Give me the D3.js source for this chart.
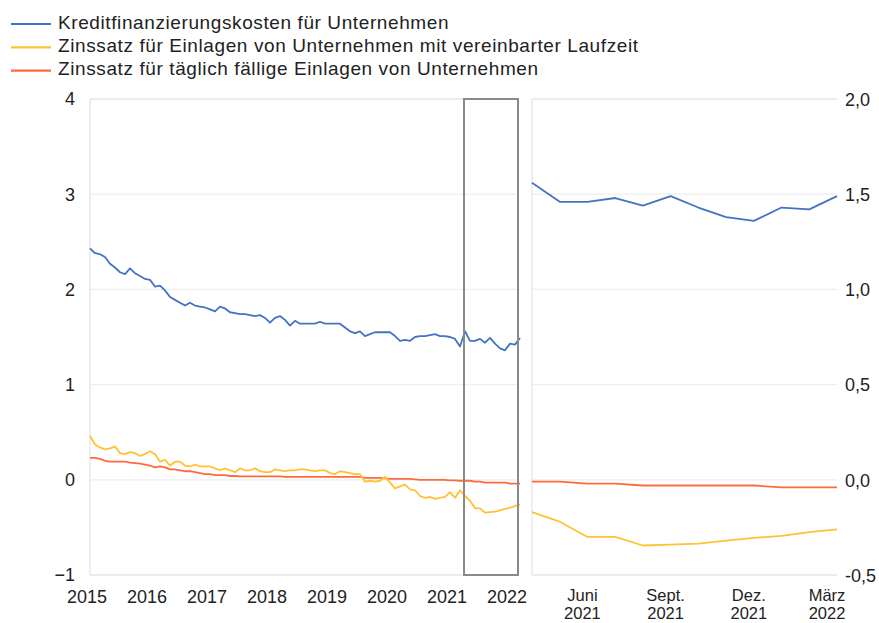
<!DOCTYPE html>
<html>
<head>
<meta charset="utf-8">
<script src="https://cdn.jsdelivr.net/npm/d3@7/dist/d3.min.js"></script>
<style>
  html, body { margin: 0; padding: 0; background: #fff; }
  svg { display: block; font-family: "Liberation Sans", Arial, sans-serif; }
</style>
</head>
<body>
<svg id="chart" width="879" height="623"></svg>
<script>
// ---- Data (monthly, Jan 2015 – Mar 2022) ----
const startYear = 2015;
const seriesNames = [
  "Kreditfinanzierungskosten für Unternehmen",
  "Zinssatz für Einlagen von Unternehmen mit vereinbarter Laufzeit",
  "Zinssatz für täglich fällige Einlagen von Unternehmen"
];
const seriesColors = ["#4472C4", "#FFC233", "#FF6A3D"];

const costOfBorrowing = [
  2.43, 2.38, 2.37, 2.34, 2.27, 2.23, 2.18, 2.16, 2.22, 2.17, 2.14, 2.11,
  2.10, 2.03, 2.04, 1.99, 1.92, 1.89, 1.86, 1.83, 1.86, 1.83, 1.82, 1.81,
  1.79, 1.77, 1.82, 1.80, 1.76, 1.75, 1.74, 1.74, 1.73, 1.72, 1.73, 1.70,
  1.65, 1.70, 1.72, 1.68, 1.62, 1.67, 1.64, 1.64, 1.64, 1.64, 1.66, 1.64,
  1.64, 1.64, 1.64, 1.60, 1.56, 1.54, 1.56, 1.51, 1.53, 1.55, 1.55, 1.55,
  1.55, 1.51, 1.46, 1.47, 1.46, 1.50, 1.51, 1.51, 1.52, 1.53, 1.51, 1.51,
  1.50, 1.48, 1.40, 1.56, 1.46, 1.46, 1.48, 1.44, 1.49, 1.43, 1.38, 1.36,
  1.43, 1.42, 1.49
];
const fixedTermDeposits = [
  0.46, 0.37, 0.34, 0.32, 0.33, 0.35, 0.28, 0.27, 0.29, 0.28, 0.25, 0.27,
  0.30, 0.27, 0.19, 0.21, 0.15, 0.19, 0.19, 0.15, 0.14, 0.16, 0.14, 0.14,
  0.14, 0.12, 0.10, 0.12, 0.10, 0.08, 0.12, 0.10, 0.10, 0.12, 0.09, 0.08,
  0.08, 0.11, 0.10, 0.09, 0.10, 0.10, 0.11, 0.11, 0.10, 0.09, 0.10, 0.10,
  0.07, 0.06, 0.09, 0.08, 0.07, 0.06, 0.06, -0.02, -0.01, -0.02, -0.01, 0.03,
  -0.03, -0.09, -0.07, -0.05, -0.10, -0.11, -0.17, -0.19, -0.18, -0.20, -0.19, -0.18,
  -0.13, -0.19, -0.11, -0.17, -0.22, -0.30, -0.30, -0.345, -0.34, -0.335, -0.32, -0.305,
  -0.295, -0.275, -0.26
];
const overnightDeposits = [
  0.23, 0.23, 0.22, 0.20, 0.19, 0.19, 0.19, 0.19, 0.18, 0.175, 0.17, 0.16,
  0.15, 0.13, 0.14, 0.13, 0.11, 0.11, 0.10, 0.09, 0.09, 0.08, 0.07, 0.06,
  0.06, 0.05, 0.05, 0.05, 0.04, 0.04, 0.035, 0.035, 0.035, 0.035, 0.035, 0.035,
  0.035, 0.035, 0.035, 0.03, 0.03, 0.03, 0.03, 0.03, 0.03, 0.03, 0.03, 0.03,
  0.03, 0.03, 0.03, 0.03, 0.03, 0.03, 0.03, 0.02, 0.02, 0.02, 0.02, 0.015,
  0.01, 0.01, 0.01, 0.01, 0.01, 0.005, 0.00, 0.00, 0.00, 0.00, 0.00, 0.00,
  -0.005, -0.005, -0.01, -0.01, -0.01, -0.02, -0.02, -0.03, -0.03, -0.03, -0.03, -0.03,
  -0.04, -0.04, -0.04
];

const leftYTicks = [-1, 0, 1, 2, 3, 4];
const leftYLabels = ["\u22121", "0", "1", "2", "3", "4"];
const rightYTicks = [-0.5, 0, 0.5, 1.0, 1.5, 2.0];
const rightYLabels = ["-0,5", "0,0", "0,5", "1,0", "1,5", "2,0"];
const yearLabels = ["2015", "2016", "2017", "2018", "2019", "2020", "2021", "2022"];
const zoomMonthLabels = ["Juni", "Sept.", "Dez.", "März"];
const zoomYearLabels = ["2021", "2021", "2021", "2022"];
const zoomMonthIdx = [77, 80, 83, 86];   // month index since Jan 2015
const zoomStartIdx = 75;                 // April 2021

// ---- Build ----
const allSeries = [costOfBorrowing, fixedTermDeposits, overnightDeposits];
const n = costOfBorrowing.length;
const idx = d3.range(n);

const svg = d3.select("#chart");
const plotTop = 99, plotBottom = 575;

const xL = d3.scaleLinear().domain([0, n - 1]).range([90, 520]);
const yL = d3.scaleLinear().domain([-1, 4]).range([plotBottom, plotTop]);
const xR = d3.scaleLinear().domain([zoomStartIdx, n - 1]).range([532, 837]);
const yR = d3.scaleLinear().domain([-0.5, 2.0]).range([plotBottom, plotTop]);

// grid - left
const gL = svg.append("g");
gL.selectAll("line.grid").data(leftYTicks).join("line")
  .attr("x1", 90).attr("x2", 519)
  .attr("y1", d => yL(d)).attr("y2", d => yL(d))
  .attr("stroke", d => (d === -1 ? "#d9d9d9" : d === 4 ? "#d9d9d9" : "#eeeeee"))
  .attr("stroke-width", 1.2);
gL.append("line").attr("x1", 90).attr("x2", 90).attr("y1", plotTop).attr("y2", plotBottom)
  .attr("stroke", "#e3e3e3").attr("stroke-width", 1.2);

// grid - right
const gR = svg.append("g");
gR.selectAll("line.grid").data(rightYTicks).join("line")
  .attr("x1", 532).attr("x2", 837)
  .attr("y1", d => yR(d)).attr("y2", d => yR(d))
  .attr("stroke", d => (d === -0.5 || d === 2.0 ? "#d9d9d9" : "#eeeeee"))
  .attr("stroke-width", 1.2);
gR.append("line").attr("x1", 532).attr("x2", 532).attr("y1", plotTop).attr("y2", plotBottom)
  .attr("stroke", "#e3e3e3").attr("stroke-width", 1.2);

// axis labels - left
svg.append("g").selectAll("text").data(leftYTicks).join("text")
  .attr("x", 75).attr("y", d => yL(d)).attr("dy", "0.35em")
  .attr("text-anchor", "end").attr("font-size", 18).attr("fill", "#222")
  .text((d, i) => leftYLabels[i]);

// axis labels - right
svg.append("g").selectAll("text").data(rightYTicks).join("text")
  .attr("x", 845).attr("y", d => yR(d)).attr("dy", "0.38em")
  .attr("text-anchor", "start").attr("font-size", 18).attr("fill", "#222")
  .text((d, i) => rightYLabels[i]);

// x labels - left (January of each year)
svg.append("g").selectAll("text").data(yearLabels).join("text")
  .attr("x", (d, i) => xL(i * 12) - 3).attr("y", 603)
  .attr("text-anchor", "middle").attr("font-size", 18).attr("fill", "#222")
  .text(d => d);

// x labels - right (two lines)
const gRX = svg.append("g");
const rxPos = i => xR(zoomMonthIdx[i]) - 5 - (i === 3 ? 5 : 0);
gRX.selectAll("text.m").data(zoomMonthLabels).join("text")
  .attr("class", "m")
  .attr("x", (d, i) => rxPos(i)).attr("y", 601)
  .attr("text-anchor", "middle").attr("font-size", 16.5).attr("fill", "#222")
  .text(d => d);
gRX.selectAll("text.y").data(zoomYearLabels).join("text")
  .attr("class", "y")
  .attr("x", (d, i) => rxPos(i)).attr("y", 619.4)
  .attr("text-anchor", "middle").attr("font-size", 16.5).attr("fill", "#222")
  .text(d => d);

// lines - left (full period)
allSeries.slice().reverse().forEach((s, k) => {
  const si = allSeries.length - 1 - k;
  svg.append("path")
    .attr("fill", "none")
    .attr("stroke", seriesColors[si])
    .attr("stroke-width", 1.8)
    .attr("stroke-linejoin", "round")
    .attr("d", d3.line().x(i => xL(i)).y(i => yL(s[i]))(idx));
});

// lines - right (zoomed last 12 months)
const idxR = d3.range(zoomStartIdx, n);
allSeries.slice().reverse().forEach((s, k) => {
  const si = allSeries.length - 1 - k;
  svg.append("path")
    .attr("fill", "none")
    .attr("stroke", seriesColors[si])
    .attr("stroke-width", 1.8)
    .attr("stroke-linejoin", "round")
    .attr("d", d3.line().x(i => xR(i)).y(i => yR(s[i]))(idxR));
});

// highlight rectangle on the left panel
svg.append("rect")
  .attr("x", xL(zoomStartIdx) - 1)
  .attr("y", plotTop)
  .attr("width", xL(n - 1) - xL(zoomStartIdx) - 1)
  .attr("height", plotBottom - plotTop)
  .attr("fill", "none")
  .attr("stroke", "#8a8a8a")
  .attr("stroke-width", 2);

// legend
const legendY = [24, 47.3, 70.7];
const lg = svg.append("g");
seriesNames.forEach((name, i) => {
  lg.append("line")
    .attr("x1", 11).attr("x2", 51)
    .attr("y1", legendY[i]).attr("y2", legendY[i])
    .attr("stroke", seriesColors[i]).attr("stroke-width", 2.2);
  lg.append("text")
    .attr("x", 58).attr("y", legendY[i] + 4.5)
    .attr("font-size", 19).attr("letter-spacing", "0.6px").attr("fill", "#222")
    .text(name);
});
</script>
</body>
</html>
